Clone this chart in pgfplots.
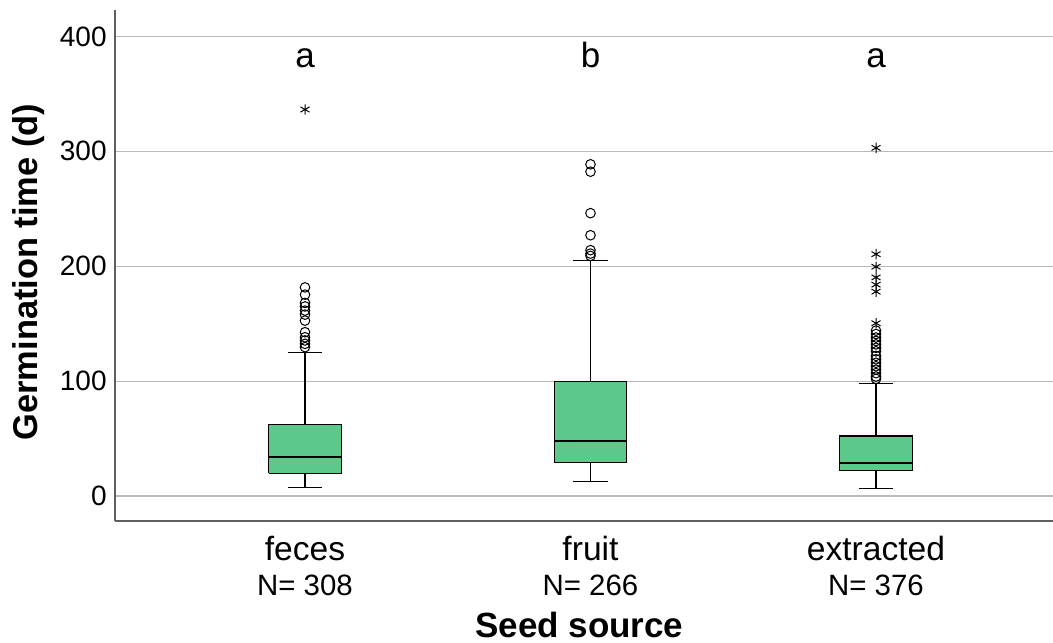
\documentclass[border=0pt]{standalone}
\usepackage{fontspec}
\setmainfont{Liberation Sans}
\usepackage{pgfplots}
\pgfplotsset{compat=1.18}

\definecolor{boxgreen}{RGB}{92,201,138}
\definecolor{gridgray}{RGB}{185,185,185}
\definecolor{axisgray}{RGB}{95,95,95}

\pgfplotsset{
  box/.style={draw=black, fill=boxgreen, line width=0.6pt},
  whisk/.style={draw=black, line width=0.6pt},
  med/.style={draw=black, line width=1.3pt},
}

\begin{document}
\begin{tikzpicture}
\begin{axis}[
  scale only axis,
  width=469pt, height=255.5pt,
  xmin=0.3345, xmax=3.62,
  ymin=-21.7, ymax=423,
  axis x line*=bottom, axis y line*=left,
  axis line style={axisgray, line width=0.6pt},
  ymajorgrids, grid style={gridgray, line width=0.6pt},
  major tick length=0pt,
  ytick={0,100,200,300,400},
  xtick={1,2,3},
  xticklabels={{feces\\{\fontsize{14.7}{17.5}\selectfont N= 308}},
               {fruit\\{\fontsize{14.7}{17.5}\selectfont N= 266}},
               {extracted\\{\fontsize{14.7}{17.5}\selectfont N= 376}}},
  xticklabel style={font=\fontsize{16.8}{17.5}\selectfont, align=center, inner sep=0pt, yshift=-7.5pt},
  yticklabel style={font=\fontsize{14}{16}\selectfont, inner sep=0pt, xshift=-4pt},
  /pgf/number format/assume math mode=true,
  xlabel={Seed source},
  xlabel style={font=\bfseries\fontsize{17.5}{20}\selectfont, at={(axis description cs:0.495,0)}, anchor=base, yshift=-58.2pt},
  ylabel={Germination time (d)},
  ylabel style={font=\bfseries\fontsize{17.2}{20}\selectfont, at={(axis description cs:-0.0917,0.487)}, anchor=center},
  clip=false,
]
% ---- feces: whiskers 7.5 / 124.7, quartiles 19.7 / 62.2, median 34.1
\addplot[whisk] coordinates {(1,62.2) (1,124.7)};
\addplot[whisk] coordinates {(1,7.5) (1,19.7)};
\addplot[whisk] coordinates {(0.94,124.7) (1.06,124.7)};
\addplot[whisk] coordinates {(0.94,7.5) (1.06,7.5)};
\addplot[box] coordinates {(0.8732,19.7) (1.1268,19.7) (1.1268,62.2) (0.8732,62.2) (0.8732,19.7)};
\addplot[med] coordinates {(0.8732,34.1) (1.1268,34.1)};

% ---- fruit: whiskers 13 / 205.3, quartiles 28.9 / 100, median 48
\addplot[whisk] coordinates {(2,100) (2,205.3)};
\addplot[whisk] coordinates {(2,13) (2,28.9)};
\addplot[whisk] coordinates {(1.94,205.3) (2.06,205.3)};
\addplot[whisk] coordinates {(1.94,13) (2.06,13)};
\addplot[box] coordinates {(1.8732,28.9) (2.1268,28.9) (2.1268,100) (1.8732,100) (1.8732,28.9)};
\addplot[med] coordinates {(1.8732,48) (2.1268,48)};

% ---- extracted: whiskers 6.6 / 97.8, quartiles 22 / 52.3, median 28.9
\addplot[whisk] coordinates {(3,52.3) (3,97.8)};
\addplot[whisk] coordinates {(3,6.6) (3,22)};
\addplot[whisk] coordinates {(2.94,97.8) (3.06,97.8)};
\addplot[whisk] coordinates {(2.94,6.6) (3.06,6.6)};
\addplot[box] coordinates {(2.8732,22) (3.1268,22) (3.1268,52.3) (2.8732,52.3) (2.8732,22)};
\addplot[med] coordinates {(2.8732,28.9) (3.1268,28.9)};

% outliers (circles)
\addplot[only marks, mark=o, mark size=2.4pt, black, mark options={line width=0.5pt}] coordinates {
  (1,181.6) (1,175.3) (1,168.1) (1,165) (1,161.4) (1,157.9) (1,152.7)
  (1,142.6) (1,138.2) (1,135.4) (1,132.5) (1,129.6)
  (2,288.7) (2,282.3) (2,246.2) (2,227.0) (2,214) (2,211) (2,209)
  (3,144) (3,141) (3,138) (3,135) (3,132) (3,129) (3,126) (3,122)
  (3,119) (3,116) (3,113) (3,110) (3,107) (3,104) (3,102)
};
% extreme values (stars)
\addplot[only marks, mark=asterisk, mark size=2.6pt, black, mark options={line width=0.5pt}] coordinates {
  (1,336.4)
  (3,303) (3,210.5) (3,199.6) (3,190.3) (3,184) (3,177.9) (3,150.4)
};

% group letters
\node[anchor=base, font=\fontsize{17.5}{20}\selectfont] at (axis cs:1,372.6) {a};
\node[anchor=base, font=\fontsize{17.5}{20}\selectfont] at (axis cs:2,372.6) {b};
\node[anchor=base, font=\fontsize{17.5}{20}\selectfont] at (axis cs:3,372.6) {a};
\end{axis}
\pgfresetboundingbox
\path (current axis.south west) ++(-57.5pt,-60.5pt) rectangle ([yshift=5pt]current axis.north east);
\end{tikzpicture}
\end{document}
